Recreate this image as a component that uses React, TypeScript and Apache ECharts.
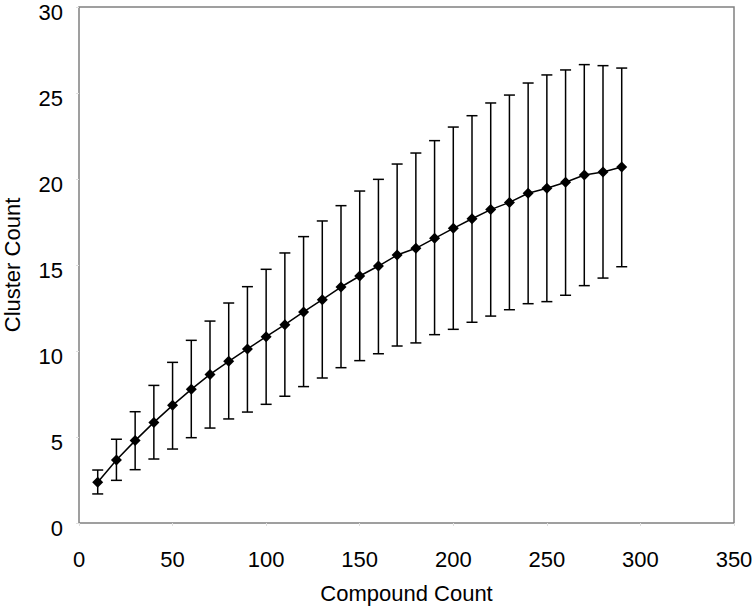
import React, { useEffect, useRef } from "react";
import * as echarts from "echarts";

const compoundCounts = [10, 20, 30, 40, 50, 60, 70, 80, 90, 100, 110, 120, 130, 140, 150, 160, 170, 180, 190, 200, 210, 220, 230, 240, 250, 260, 270, 280, 290];
const meanClusters = [2.37, 3.66, 4.79, 5.85, 6.84, 7.77, 8.64, 9.40, 10.12, 10.83, 11.53, 12.27, 12.98, 13.72, 14.36, 14.94, 15.58, 15.97, 16.55, 17.13, 17.69, 18.22, 18.64, 19.17, 19.46, 19.81, 20.23, 20.41, 20.70];
const upperClusters = [3.08, 4.87, 6.47, 8.00, 9.34, 10.62, 11.74, 12.79, 13.74, 14.75, 15.70, 16.65, 17.56, 18.45, 19.30, 19.98, 20.87, 21.51, 22.23, 23.02, 23.68, 24.42, 24.88, 25.58, 26.05, 26.34, 26.65, 26.59, 26.45];
const lowerClusters = [1.69, 2.48, 3.10, 3.72, 4.30, 4.96, 5.52, 6.05, 6.45, 6.90, 7.37, 7.93, 8.43, 9.03, 9.44, 9.84, 10.29, 10.47, 10.95, 11.26, 11.67, 12.03, 12.40, 12.75, 12.87, 13.24, 13.80, 14.24, 14.90];

const FONT = "Liberation Sans, Arial, sans-serif";

export default function App() {
  const ref = useRef<HTMLDivElement>(null);
  useEffect(() => {
    if (!ref.current) return;
    const chart = echarts.init(ref.current, undefined, { renderer: "svg" });
    const errData = compoundCounts.map((x, i) => [x, lowerClusters[i], upperClusters[i]]);
    const lineData = compoundCounts.map((x, i) => [x, meanClusters[i]]);
    chart.setOption({
      animation: false,
      backgroundColor: "#ffffff",
      grid: {
        left: 79,
        top: 7,
        right: 18,
        bottom: 84,
        outerBoundsMode: "none",
        containLabel: false,
        show: true,
        borderColor: "#808080",
        borderWidth: 1.5,
        backgroundColor: "#ffffff",
      },
      xAxis: {
        type: "value",
        min: 0,
        max: 350,
        interval: 50,
        name: "Compound Count",
        nameLocation: "middle",
        nameGap: 59,
        nameTextStyle: { fontFamily: FONT, fontSize: 22, color: "#000" },
        axisLine: { show: false },
        axisTick: { show: true, inside: false, length: 3, lineStyle: { color: "#e0e0e0" } },
        splitLine: { show: false },
        axisLabel: { fontFamily: FONT, fontSize: 22, color: "#000", margin: 25 },
      },
      yAxis: {
        type: "value",
        min: 0,
        max: 30,
        interval: 5,
        name: "Cluster Count",
        nameLocation: "middle",
        nameGap: 56,
        nameTextStyle: { fontFamily: FONT, fontSize: 22, color: "#000" },
        axisLine: { show: false },
        axisTick: { show: true, inside: false, length: 3, lineStyle: { color: "#e0e0e0" } },
        splitLine: { show: false },
        axisLabel: { fontFamily: FONT, fontSize: 22, color: "#000", margin: 16, verticalAlign: "top", lineHeight: 10 },
      },
      series: [
        {
          type: "custom",
          z: 2,
          data: errData,
          encode: { x: 0, y: [1, 2] },
          renderItem: (params: any, api: any) => {
            const x = api.value(0);
            const lo = api.coord([x, api.value(1)]);
            const hi = api.coord([x, api.value(2)]);
            const hw = 5.5;
            const style = { stroke: "#000", lineWidth: 1.5 };
            return {
              type: "group",
              children: [
                { type: "line", shape: { x1: lo[0], y1: lo[1], x2: hi[0], y2: hi[1] }, style },
                { type: "line", shape: { x1: hi[0] - hw, y1: hi[1], x2: hi[0] + hw, y2: hi[1] }, style },
                { type: "line", shape: { x1: lo[0] - hw, y1: lo[1], x2: lo[0] + hw, y2: lo[1] }, style },
              ],
            };
          },
        },
        {
          type: "line",
          z: 3,
          data: lineData,
          symbol: "diamond",
          symbolSize: 11,
          showSymbol: true,
          itemStyle: { color: "#000" },
          lineStyle: { color: "#000", width: 1.5 },
        },
      ],
    });
    return () => chart.dispose();
  }, []);
  return <div ref={ref} style={{ width: 752, height: 607, position: "absolute", left: 0, top: 0 }} />;
}
